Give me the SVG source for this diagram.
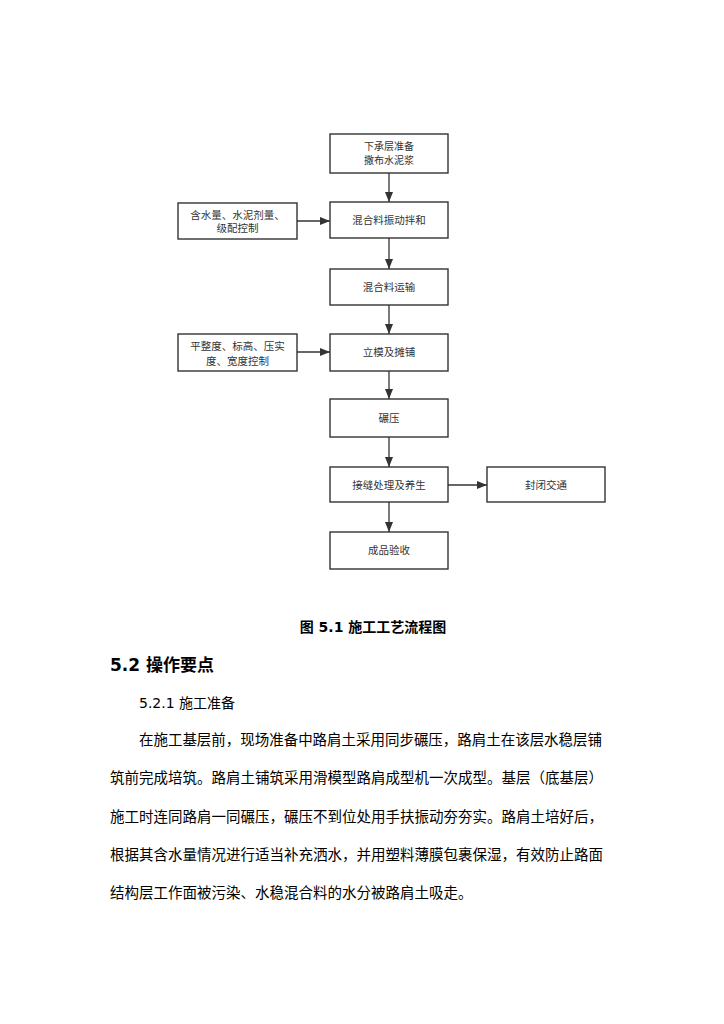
<svg xmlns="http://www.w3.org/2000/svg" width="724" height="1024" viewBox="0 0 724 1024">
<style>
.box{fill:#fff;stroke:#333;stroke-width:1.4}
.lbl{font-family:"Noto Sans CJK SC","DejaVu Sans",sans-serif;font-size:10.5px;fill:#333;text-anchor:middle}
.sm{font-size:10px}
.con{stroke:#333;stroke-width:1.3;fill:none}
.body{font-family:"DejaVu Sans","Noto Sans CJK SC",sans-serif;font-size:14.5px;fill:#000}
</style>
<defs>
<marker id="ah" markerWidth="10" markerHeight="8" refX="10" refY="4" orient="auto" markerUnits="userSpaceOnUse">
<path d="M0,0 L10,4 L0,8 Z" fill="#333"/>
</marker>
</defs>
<rect width="724" height="1024" fill="#fff"/>
<g id="connectors">
<line class="con" x1="389" y1="173" x2="389" y2="202" marker-end="url(#ah)"/>
<line class="con" x1="389" y1="238" x2="389" y2="269" marker-end="url(#ah)"/>
<line class="con" x1="389" y1="305" x2="389" y2="334" marker-end="url(#ah)"/>
<line class="con" x1="389" y1="371" x2="389" y2="399" marker-end="url(#ah)"/>
<line class="con" x1="389" y1="437" x2="389" y2="467" marker-end="url(#ah)"/>
<line class="con" x1="389" y1="502" x2="389" y2="532" marker-end="url(#ah)"/>
<line class="con" x1="297" y1="221" x2="330" y2="221" marker-end="url(#ah)"/>
<line class="con" x1="297" y1="352" x2="330" y2="352" marker-end="url(#ah)"/>
<line class="con" x1="448" y1="485" x2="487" y2="485" marker-end="url(#ah)"/>
</g>
<g id="n1"><rect class="box" x="330" y="134" width="118" height="39"/><text class="lbl sm" x="389" y="150">下承层准备</text><text class="lbl sm" x="389" y="163.5">撒布水泥浆</text></g>
<g id="n2"><rect class="box" x="330" y="202" width="118" height="36"/><text class="lbl" x="389" y="224">混合料振动拌和</text></g>
<g id="n3"><rect class="box" x="330" y="269" width="118" height="36"/><text class="lbl" x="389" y="291">混合料运输</text></g>
<g id="n4"><rect class="box" x="330" y="334" width="118" height="37"/><text class="lbl" x="389" y="356">立模及摊铺</text></g>
<g id="n5"><rect class="box" x="330" y="399" width="118" height="38"/><text class="lbl" x="389" y="422">碾压</text></g>
<g id="n6"><rect class="box" x="330" y="467" width="118" height="35"/><text class="lbl" x="389" y="489">接缝处理及养生</text></g>
<g id="n7"><rect class="box" x="330" y="532" width="118" height="37"/><text class="lbl" x="389" y="554">成品验收</text></g>
<g id="l1"><rect class="box" x="178" y="203" width="119" height="36"/><text class="lbl" x="237.5" y="218.5">含水量、水泥剂量、</text><text class="lbl" x="237.5" y="232">级配控制</text></g>
<g id="l2"><rect class="box" x="178" y="334" width="119" height="37"/><text class="lbl" x="237.5" y="350">平整度、标高、压实</text><text class="lbl" x="237.5" y="364.5">度、宽度控制</text></g>
<g id="r1"><rect class="box" x="487" y="467" width="118" height="35"/><text class="lbl" x="546" y="489">封闭交通</text></g>
<text x="373" y="632" text-anchor="middle" style="font-family:'DejaVu Sans','Noto Sans CJK SC',sans-serif;font-size:14px;font-weight:bold">图 5.1 施工工艺流程图</text>
<text x="110" y="671" style="font-family:'DejaVu Sans','Noto Sans CJK SC',sans-serif;font-size:17px;font-weight:bold">5.2 操作要点</text>
<text x="139" y="708" style="font-family:'DejaVu Sans','Noto Sans CJK SC',sans-serif;font-size:14px">5.2.1 施工准备</text>
<text class="body" x="139" y="745" textLength="463" lengthAdjust="spacing">在施工基层前，现场准备中路肩土采用同步碾压，路肩土在该层水稳层铺</text>
<text class="body" x="110" y="783" textLength="493" lengthAdjust="spacing">筑前完成培筑。路肩土铺筑采用滑模型路肩成型机一次成型。基层（底基层）</text>
<text class="body" x="110" y="822" textLength="493" lengthAdjust="spacing">施工时连同路肩一同碾压，碾压不到位处用手扶振动夯夯实。路肩土培好后，</text>
<text class="body" x="110" y="860" textLength="493" lengthAdjust="spacing">根据其含水量情况进行适当补充洒水，并用塑料薄膜包裹保湿，有效防止路面</text>
<text class="body" x="110" y="898">结构层工作面被污染、水稳混合料的水分被路肩土吸走。</text>
</svg>
